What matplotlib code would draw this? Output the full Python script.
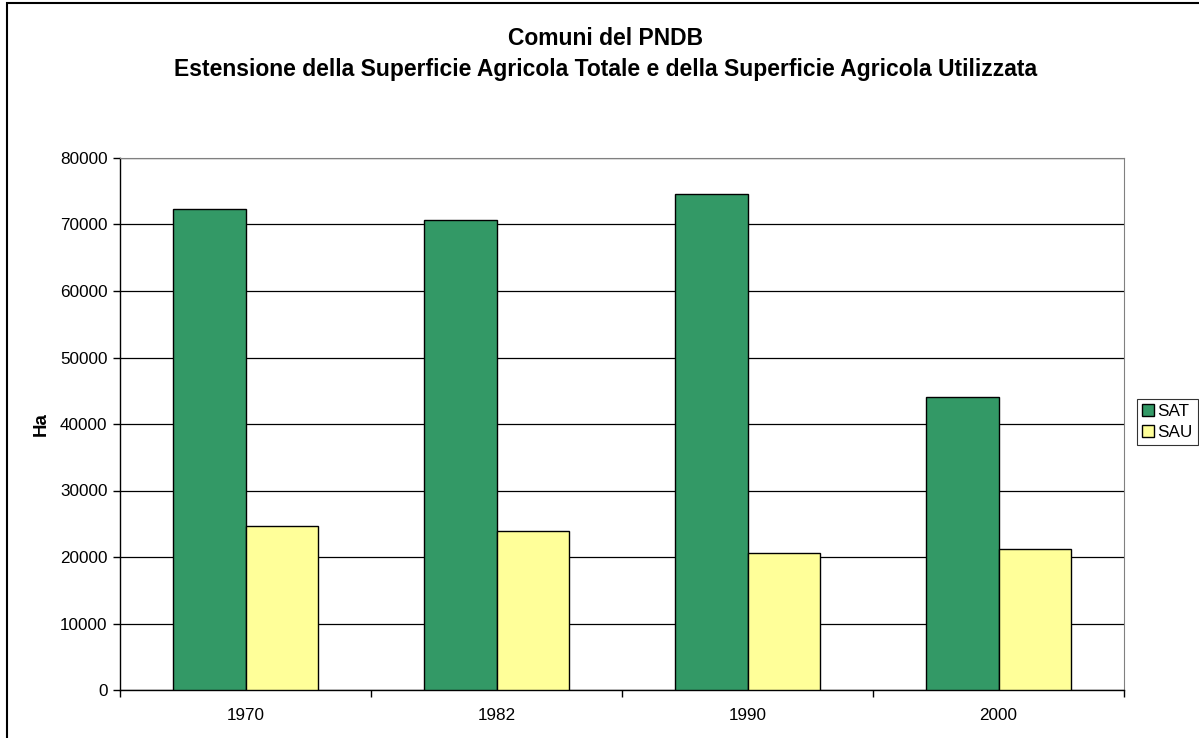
import numpy as np
import matplotlib
matplotlib.use("Agg")
import matplotlib.pyplot as plt
from matplotlib.patches import Rectangle

plt.rcParams['font.family'] = ['Liberation Sans', 'DejaVu Sans']

# data
years = ['1970', '1982', '1990', '2000']
sat = [72400, 70650, 74600, 44050]
sau = [24700, 23900, 20550, 21150]
series_names = ['SAT', 'SAU']
series_colors = ['#339966', '#FFFF99']
yticks = [0, 10000, 20000, 30000, 40000, 50000, 60000, 70000, 80000]

title = ('Comuni del PNDB\n'
         'Estensione della Superficie Agricola Totale e della Superficie Agricola Utilizzata')

fig = plt.figure(figsize=(11.99, 7.38), dpi=100)
W, H = 1199, 738
ax = fig.add_axes([120 / W, 1 - 690 / H, (1124 - 120) / W, (690 - 158) / H])

x = np.arange(len(years))
bw = 0.287
for i, (vals, name, col) in enumerate(zip([sat, sau], series_names, series_colors)):
    ax.bar(x + (i - 0.5) * bw, vals, width=bw, color=col, edgecolor='black',
           linewidth=1.0, label=name, zorder=3)

ax.set_xlim(-0.5, len(years) - 0.5)
ax.set_ylim(0, 80000)
ax.set_yticks(yticks)
ax.set_yticklabels([str(v) for v in yticks], fontsize=12.3)
ax.yaxis.grid(True, color='black', linewidth=0.9, zorder=0)

# category boundaries get tick marks, labels sit in the middle
ax.set_xticks(np.arange(len(years) + 1) - 0.5)
ax.set_xticklabels([])
ax.set_xticks(x, minor=True)
ax.set_xticklabels(years, minor=True, fontsize=12.3)
ax.tick_params(axis='x', which='minor', length=0, pad=13)
ax.tick_params(axis='both', which='major', length=5, width=1, color='black')
ax.tick_params(axis='y', pad=4)

for s in ['top', 'right']:
    ax.spines[s].set_color('#808080')
for s in ['left', 'bottom']:
    ax.spines[s].set_color('black')
    ax.spines[s].set_linewidth(1.0)

ax.set_ylabel('Ha', fontsize=13.5, fontweight='bold', labelpad=7)

fig.text(606 / W, 1 - 54 / H, title, ha='center', va='center', fontsize=16.5,
         fontweight='bold', linespacing=1.4)

leg = fig.legend(loc='center left', bbox_to_anchor=(1137 / W, 1 - 422 / H),
                 fontsize=12.3, frameon=True, fancybox=False, handlelength=0.7,
                 handleheight=0.7, handletextpad=0.2, borderpad=0.3,
                 labelspacing=0.3, borderaxespad=0)
leg.get_frame().set_edgecolor('black')
leg.get_frame().set_linewidth(0.8)

# outer chart frame
fig.patches.append(Rectangle((7 / W, -0.05), 1.2, 1.05 - 2.5 / H, transform=fig.transFigure,
                             fill=False, edgecolor='black', linewidth=1.5))

fig.savefig('out.png', dpi=100)
